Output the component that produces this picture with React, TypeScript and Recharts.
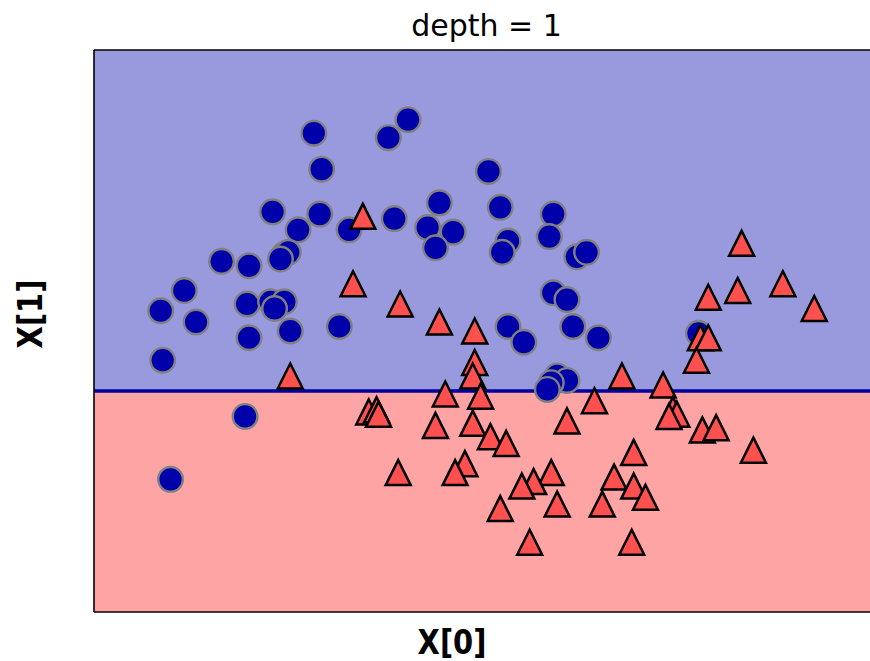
import React from 'react';
import { ScatterChart, Scatter, XAxis, YAxis, ReferenceArea, ReferenceLine } from 'recharts';

// class 0 (circles)
const class0X = [
  -0.38, 0.0, 0.1, -0.34, 0.51, -0.59, -0.35, -0.46, -0.2, 0.03,
  0.26, 0.2, 0.33, 0.24, 0.57, 0.61, 0.58, 0.84, 0.82, 0.96,
  1.01, -0.85, -0.71, -0.53, -0.51, -0.55, -1.04, -1.16, -0.98, -0.72,
  -0.6, -0.53, -0.58, -0.71, -0.5, -0.25, -1.15, 0.84, 0.91, 0.61,
  0.69, 0.94, 1.07, 1.58, 0.86, 0.91, 0.83, 0.81, -0.73, -1.11,
];
const class0Y = [
  1.13, 1.11, 1.19, 0.97, 0.96, 0.78, 0.77, 0.7, 0.7, 0.75,
  0.82, 0.71, 0.69, 0.62, 0.8, 0.65, 0.6, 0.77, 0.67, 0.58,
  0.6, 0.56, 0.54, 0.59, 0.6, 0.57, 0.43, 0.34, 0.29, 0.37,
  0.38, 0.38, 0.35, 0.22, 0.25, 0.27, 0.12, 0.42, 0.39, 0.27,
  0.2, 0.27, 0.22, 0.24, 0.05, 0.03, 0.02, -0.01, -0.13, -0.41,
];

// class 1 (triangles)
const class1X = [
  -0.13, 1.8, -0.18, 2.01, 1.78, 1.63, 0.06, 2.17, 0.26, 0.44,
  1.59, 1.63, 1.57, 0.44, 0.43, -0.5, 1.19, 1.4, 0.29, 0.47,
  1.05, -0.1, -0.06, -0.05, 1.45, 1.47, 1.43, 0.91, 0.43, 0.24,
  1.6, 1.67, 0.52, 0.6, 1.86, 1.25, 0.39, 0.05, 0.34, 0.83,
  1.15, 0.74, 0.68, 1.25, 1.31, 0.57, 0.86, 1.09, 0.72, 1.24,
];
const class1Y = [
  0.76, 0.64, 0.46, 0.46, 0.43, 0.4, 0.37, 0.35, 0.29, 0.25,
  0.22, 0.22, 0.12, 0.11, 0.05, 0.05, 0.05, 0.01, -0.03, -0.04,
  -0.06, -0.11, -0.1, -0.12, -0.1, -0.12, -0.13, -0.15, -0.16, -0.17,
  -0.19, -0.18, -0.22, -0.25, -0.28, -0.29, -0.34, -0.38, -0.38, -0.38,
  -0.4, -0.42, -0.44, -0.44, -0.49, -0.54, -0.52, -0.52, -0.69, -0.69,
];

const xDomain = [-1.5, 2.5];
const yDomain = [-1, 1.5];
const threshold = -0.017;

const circles = class0X.map((x, i) => ({ x, y: class0Y[i] }));
const triangles = class1X.map((x, i) => ({ x, y: class1Y[i] }));

const Circle = (props: any) => {
  const { cx, cy } = props;
  return <circle cx={cx} cy={cy} r={12.3} fill="#0000aa" stroke="#808080" strokeWidth={2.4} />;
};

const Triangle = (props: any) => {
  const { cx, cy } = props;
  const h = 12.5;
  const pts = `${cx},${cy - h} ${cx - h},${cy + h} ${cx + h},${cy + h}`;
  return <polygon points={pts} fill="#ff5050" stroke="#000" strokeWidth={2.5} strokeLinejoin="miter" />;
};

export default function App() {
  return (
    <div style={{ position: 'absolute', left: 0, top: 0, width: 870, height: 661, overflow: 'hidden', background: '#fff' }}>
      <ScatterChart width={879} height={661} margin={{ top: 50, right: 0, bottom: 49, left: 94 }}>
        <XAxis type="number" dataKey="x" domain={xDomain} hide />
        <YAxis type="number" dataKey="y" domain={yDomain} hide />
        <ReferenceArea y1={yDomain[0]} y2={threshold} fill="#ffa4a4" fillOpacity={1} stroke="none" />
        <ReferenceArea y1={threshold} y2={yDomain[1]} fill="#9999dd" fillOpacity={1} stroke="none" />
        <ReferenceLine y={threshold} stroke="#0000a0" strokeWidth={3.5} />
        <ReferenceLine x={xDomain[0]} stroke="#000" strokeWidth={1.6} />
        <ReferenceLine y={yDomain[0]} stroke="#000" strokeWidth={1.6} />
        <ReferenceLine y={yDomain[1]} stroke="#000" strokeWidth={1.6} />
        <Scatter data={circles} shape={<Circle />} isAnimationActive={false} />
        <Scatter data={triangles} shape={<Triangle />} isAnimationActive={false} />
      </ScatterChart>
      <svg width={870} height={661} style={{ position: 'absolute', left: 0, top: 0, pointerEvents: 'none' }}>
        <text x={486.5} y={36} textAnchor="middle" fontFamily="DejaVu Sans" fontSize={30} fill="#000">
          depth = 1
        </text>
        <text
          x={0}
          y={0}
          transform="translate(452,654) scale(0.85,1)"
          textAnchor="middle"
          fontFamily="DejaVu Sans"
          fontWeight="bold"
          fontSize={34}
          fill="#000"
        >
          X[0]
        </text>
        <text
          x={0}
          y={0}
          transform="translate(42,314) rotate(-90) scale(0.85,1)"
          textAnchor="middle"
          fontFamily="DejaVu Sans"
          fontWeight="bold"
          fontSize={34}
          fill="#000"
        >
          X[1]
        </text>
      </svg>
    </div>
  );
}
